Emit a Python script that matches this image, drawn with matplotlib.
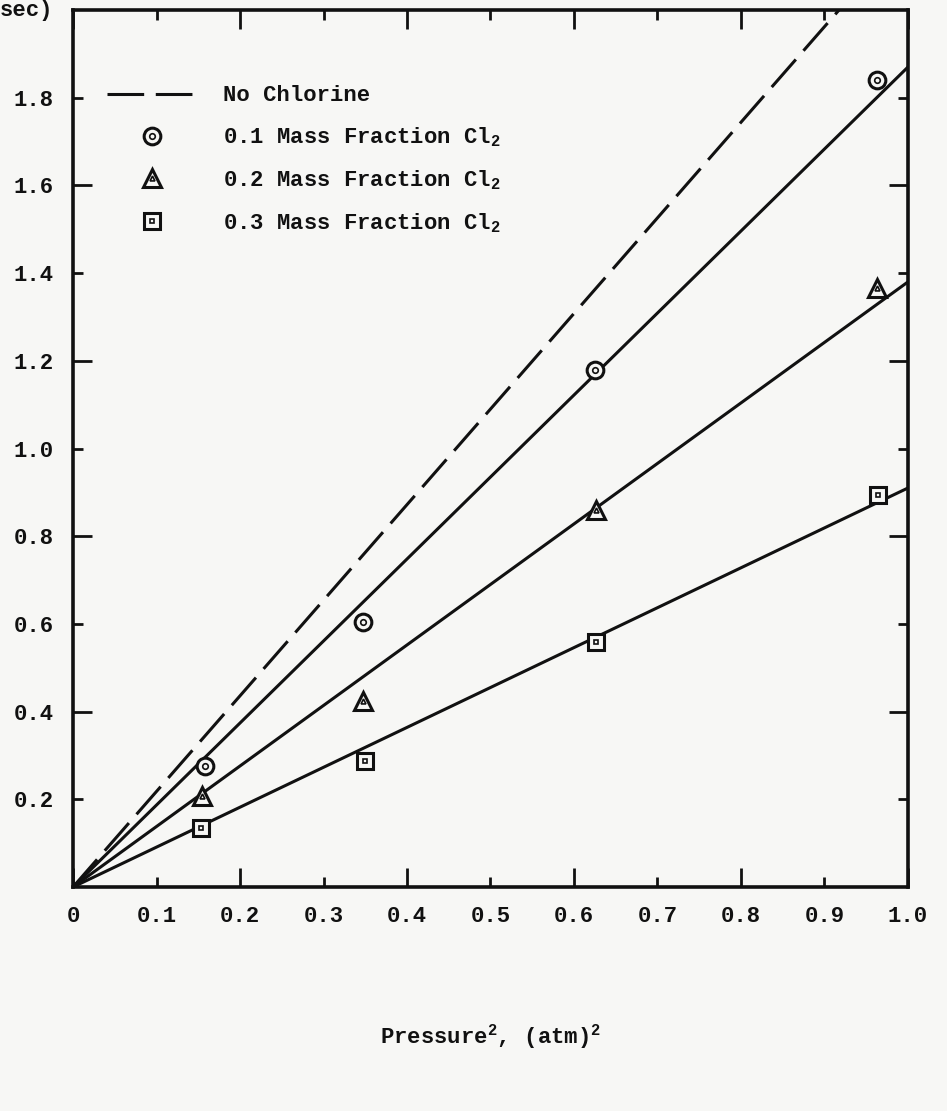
import numpy as np
import matplotlib
matplotlib.use('Agg')
import matplotlib.pyplot as plt
from matplotlib.legend_handler import HandlerTuple

plt.rcParams['font.family'] = ['Liberation Mono', 'DejaVu Sans Mono']
plt.rcParams['font.weight'] = 'bold'
plt.rcParams['mathtext.fontset'] = 'custom'
plt.rcParams['mathtext.rm'] = 'Liberation Mono:bold'
plt.rcParams['mathtext.it'] = 'Liberation Mono:bold'
plt.rcParams['mathtext.bf'] = 'Liberation Mono:bold'

# ---- data ----
p2_01 = [0.158, 0.347, 0.625, 0.963]
rate_01 = [0.275, 0.605, 1.180, 1.840]

p2_02 = [0.155, 0.347, 0.626, 0.963]
rate_02 = [0.207, 0.424, 0.860, 1.365]

p2_03 = [0.153, 0.350, 0.626, 0.964]
rate_03 = [0.134, 0.287, 0.558, 0.895]

# fitted straight lines through origin: value at pressure^2 = 1.0
fit_x = [0.0, 1.0]
fit_no_cl = [0.0, 2.18]
fit_01 = [0.0, 1.87]
fit_02 = [0.0, 1.38]
fit_03 = [0.0, 0.91]

x_major = [0.0, 0.2, 0.4, 0.6, 0.8, 1.0]
x_major_lab = ['0', '0.2', '0.4', '0.6', '0.8', '1.0']
x_minor = [0.1, 0.3, 0.5, 0.7, 0.9]
x_minor_lab = ['0.1', '0.3', '0.5', '0.7', '0.9']
y_major = [0.4, 0.8, 1.2, 1.6]
y_major_lab = ['0.4', '0.8', '1.2', '1.6']
y_minor = [0.2, 0.6, 1.0, 1.4, 1.8]
y_minor_lab = ['0.2', '0.6', '1.0', '1.4', '1.8']

ink = '#111111'
bg = '#f7f7f5'

fig = plt.figure(figsize=(9.47, 11.11), dpi=100)
fig.set_facecolor(bg)
ax = fig.add_axes([0.0771, 0.2016, 0.8817, 0.7894])
ax.set_facecolor(bg)

lw = 2.2
h_dash, = ax.plot(fit_x, fit_no_cl, color=ink, lw=lw, dashes=(12, 3.8), solid_capstyle='butt')
ax.plot(fit_x, fit_01, color=ink, lw=lw)
ax.plot(fit_x, fit_02, color=ink, lw=lw)
ax.plot(fit_x, fit_03, color=ink, lw=lw)

mk = dict(color=ink, ls='none', mfc=bg, mec=ink, mew=2.2, zorder=5)
inner = dict(color=ink, ls='none', mfc='none', mec=ink, mew=1.2, zorder=6)
c1, = ax.plot(p2_01, rate_01, marker='o', ms=12, **mk)
c2, = ax.plot(p2_01, rate_01, marker='o', ms=4, **inner)
t1, = ax.plot(p2_02, rate_02, marker='^', ms=13, **mk)
t2, = ax.plot(p2_02, rate_02, marker='^', ms=3.5, **inner)
s1, = ax.plot(p2_03, rate_03, marker='s', ms=11, **mk)
s2, = ax.plot(p2_03, rate_03, marker='s', ms=3.5, **inner)

ax.set_xlim(0, 1.0)
ax.set_ylim(0, 2.0)

ax.set_xticks(x_major, labels=x_major_lab)
ax.set_xticks(x_minor, labels=x_minor_lab, minor=True)
ax.set_yticks(y_major, labels=y_major_lab)
ax.set_yticks(y_minor, labels=y_minor_lab, minor=True)
ax.tick_params(which='both', direction='in', top=True, right=True, width=2.0,
               labelsize=16, pad=14, color=ink, labelcolor=ink)
ax.tick_params(which='major', length=14)
ax.tick_params(which='minor', length=7.5)
for sp in ax.spines.values():
    sp.set_linewidth(2.6)
    sp.set_color(ink)

ax.set_xlabel('Pressure$^2$, (atm)$^2$', fontsize=16, fontweight='bold', labelpad=68, color=ink)

leg = ax.legend([h_dash, (c1, c2), (t1, t2), (s1, s2)],
                ['No Chlorine', '0.1 Mass Fraction Cl$_2$',
                 '0.2 Mass Fraction Cl$_2$', '0.3 Mass Fraction Cl$_2$'],
                handler_map={tuple: HandlerTuple(ndivide=1)},
                loc='upper left', bbox_to_anchor=(0.041, 0.914), frameon=False,
                fontsize=16, handlelength=4.0, handletextpad=1.2, labelspacing=0.86,
                borderpad=0, borderaxespad=0)
for t in leg.get_texts():
    t.set_color(ink)

# remnant of the axis title at the top-left corner
fig.text(0.0, 1.0, 'sec)', ha='left', va='top', fontsize=16,
         fontweight='bold', color=ink)

fig.savefig('out.png', dpi=100, facecolor=bg)
